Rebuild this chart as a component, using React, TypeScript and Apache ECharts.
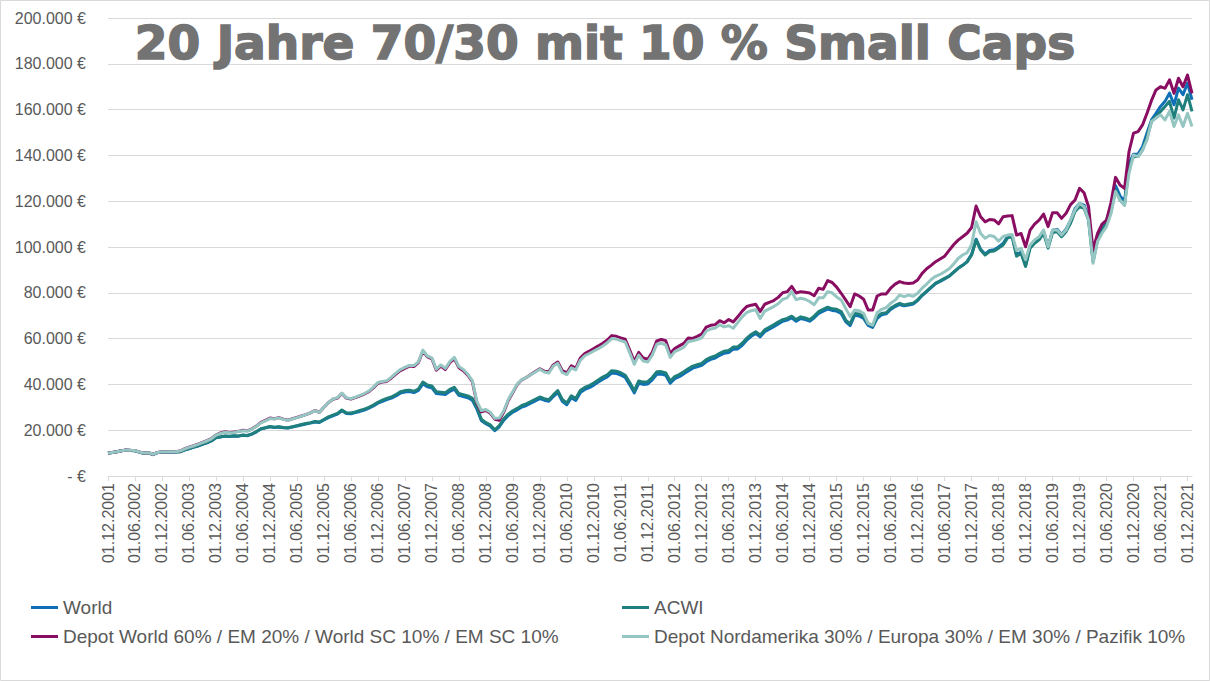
import React, { useEffect, useRef } from "react";
import * as echarts from "echarts";

// Values in thousand euros, monthly from 01.12.2001 to 01.01.2022
const world = [
  10.0, 10.3, 10.6, 11.0, 11.3, 11.1, 11.0, 10.4, 9.9, 10.1, 9.3, 10.2,
  10.5, 10.5, 10.5, 10.5, 10.6, 11.3, 11.9, 12.5, 13.1, 13.8, 14.5, 15.3,
  16.7, 17.0, 17.4, 17.3, 17.5, 17.4, 17.8, 17.6, 18.3, 19.3, 20.5, 21.0,
  21.5, 21.2, 21.4, 21.1, 21.0, 21.4, 21.8, 22.3, 22.7, 23.1, 23.6, 23.4,
  24.5, 25.5, 26.3, 27.0, 28.5, 27.3, 27.2, 27.7, 28.2, 28.8, 29.6, 30.6,
  31.8, 32.6, 33.4, 34.0, 35.0, 36.2, 36.7, 36.9, 36.4, 37.4, 40.2, 39.0,
  38.5, 36.0, 35.8, 35.6, 37.0, 37.9, 35.2, 34.7, 34.2, 33.1, 29.3, 24.2,
  22.8, 21.8, 19.8, 21.5, 24.4, 26.4, 27.9, 28.9, 30.1, 30.8, 31.8, 32.8,
  33.8, 33.1, 32.6, 34.7, 36.5, 32.6, 31.1, 34.2, 33.0, 36.4, 37.8, 38.6,
  39.7, 41.0, 42.3, 43.3, 45.0, 44.8, 44.1, 43.0, 39.8, 36.3, 40.5, 40.0,
  40.2, 42.0, 44.4, 44.5, 44.0, 40.5, 42.5, 43.4, 44.6, 45.9, 47.1, 47.7,
  48.3, 49.9, 50.9, 51.5, 52.7, 53.6, 53.9, 55.4, 55.5, 57.1, 59.3, 61.0,
  62.2, 60.8, 63.0, 64.1, 65.2, 66.4, 67.6, 68.1, 69.1, 67.6, 68.8, 68.3,
  67.6, 69.1, 71.0, 72.0, 72.9, 72.3, 72.0, 71.0, 67.4, 65.7, 70.2, 69.9,
  68.8, 65.8, 64.9, 68.9, 70.4, 70.8, 72.7, 74.0, 74.9, 74.3, 74.7, 75.1,
  76.6, 78.8, 80.5, 82.3, 84.0, 85.0, 86.1, 87.2, 88.9, 90.7, 92.0, 93.6,
  96.8, 103.4, 99.0, 96.9, 98.5, 98.8, 100.0, 101.5, 104.6, 105.0, 96.5, 97.8,
  92.0, 100.2, 102.4, 103.9, 106.9, 100.2, 107.3, 107.7, 105.5, 107.8, 111.6, 116.8,
  119.0, 118.3, 113.0, 94.5, 104.2, 108.3, 111.8, 117.0, 126.8, 122.3, 120.0, 136.5,
  140.5, 140.6, 143.8, 149.8, 155.5, 158.4, 161.4, 163.6, 167.2, 162.1, 169.4, 166.5,
  171.6, 164.3,
];

const acwi = [
  10.0, 10.3, 10.6, 11.0, 11.3, 11.1, 11.0, 10.4, 9.9, 10.1, 9.4, 10.2,
  10.5, 10.5, 10.5, 10.5, 10.6, 11.3, 12.0, 12.6, 13.2, 13.9, 14.6, 15.4,
  16.8, 17.1, 17.5, 17.4, 17.6, 17.5, 17.9, 17.7, 18.4, 19.4, 20.6, 21.1,
  21.6, 21.3, 21.5, 21.2, 21.1, 21.5, 22.0, 22.5, 22.9, 23.3, 23.8, 23.6,
  24.7, 25.8, 26.6, 27.3, 28.8, 27.6, 27.5, 28.0, 28.6, 29.2, 30.0, 31.0,
  32.2, 33.1, 33.9, 34.5, 35.5, 36.8, 37.3, 37.5, 37.0, 38.0, 41.0, 39.7,
  39.3, 36.8, 36.6, 36.4, 37.8, 38.7, 36.0, 35.5, 35.0, 33.9, 30.0, 24.8,
  23.3, 22.3, 20.2, 22.0, 25.0, 27.0, 28.5, 29.5, 30.8, 31.5, 32.5, 33.5,
  34.5, 33.8, 33.3, 35.4, 37.3, 33.4, 31.9, 35.0, 33.8, 37.3, 38.7, 39.5,
  40.6, 41.9, 43.2, 44.2, 46.0, 45.8, 45.1, 44.0, 40.8, 37.2, 41.5, 41.0,
  41.2, 43.0, 45.5, 45.6, 45.0, 41.5, 43.4, 44.3, 45.5, 46.8, 48.0, 48.6,
  49.2, 50.8, 51.8, 52.4, 53.6, 54.5, 54.8, 56.3, 56.4, 58.0, 60.1, 61.8,
  63.0, 61.6, 63.8, 64.9, 66.0, 67.2, 68.3, 68.8, 69.8, 68.3, 69.5, 69.0,
  68.3, 69.8, 71.8, 72.8, 73.7, 73.0, 72.8, 71.8, 68.1, 66.4, 71.0, 70.7,
  69.6, 66.4, 65.5, 69.6, 71.0, 71.3, 73.2, 74.5, 75.4, 74.7, 75.1, 75.5,
  76.9, 79.0, 80.7, 82.5, 84.2, 85.2, 86.3, 87.3, 89.0, 90.7, 92.0, 93.5,
  96.5, 103.0, 98.7, 96.5, 98.0, 98.3, 99.5, 100.9, 104.0, 104.5, 96.0, 97.3,
  91.5, 99.5, 101.6, 103.1, 106.0, 99.5, 106.3, 106.7, 104.5, 106.7, 110.4, 115.5,
  117.6, 116.9, 111.8, 93.6, 103.1, 107.0, 110.4, 115.5, 125.0, 120.5, 118.3, 135.1,
  139.5, 139.5, 142.4, 148.2, 154.8, 157.0, 159.2, 161.4, 163.6, 156.3, 164.3, 159.9,
  166.5, 159.2,
];

const depotWorldSC = [
  10.0, 10.3, 10.6, 11.0, 11.4, 11.2, 11.1, 10.5, 10.0, 10.2, 9.5, 10.3,
  10.6, 10.7, 10.6, 10.6, 10.9, 11.8, 12.6, 13.2, 13.9, 14.7, 15.4, 16.3,
  17.9, 18.8, 19.3, 19.0, 19.2, 19.5, 20.0, 19.7, 20.6, 21.8, 23.4, 24.3,
  25.3, 25.0, 25.5, 24.8, 24.4, 25.0, 25.6, 26.2, 26.8, 27.6, 28.6, 27.8,
  30.0, 32.0, 33.5, 34.0, 36.0, 34.0, 33.6, 34.2, 35.0, 35.8, 36.8, 38.5,
  40.5, 41.0, 41.3, 42.8, 44.5, 46.0, 47.0, 48.0, 47.8, 49.5, 54.5, 52.0,
  51.2, 46.2, 48.0, 46.5, 49.5, 51.3, 47.3, 46.0, 44.0, 41.2, 32.0, 28.0,
  28.6, 27.4, 24.8, 24.3, 28.0, 33.0, 36.5, 40.0, 42.0, 43.0, 44.3, 45.6,
  46.8, 45.8, 45.5, 48.5, 49.8, 46.0, 45.0, 48.1, 47.1, 51.5, 53.5, 54.5,
  55.7, 56.8, 58.0, 59.4, 61.3, 61.0, 60.3, 59.7, 55.0, 50.0, 54.0, 51.5,
  51.0, 54.0, 59.0, 59.6, 59.1, 53.5, 55.7, 56.8, 57.9, 60.3, 60.1, 61.0,
  62.0, 65.0, 65.8, 66.1, 67.8, 66.9, 68.3, 67.3, 69.5, 72.0, 74.0, 74.6,
  75.0, 71.8, 75.0, 75.8, 76.6, 78.0, 80.0, 80.5, 82.8, 79.9, 80.5, 80.2,
  79.9, 78.7, 82.0, 81.5, 85.3, 84.5, 82.5, 79.8, 76.9, 73.9, 79.5, 78.6,
  77.2, 72.5, 72.5, 78.6, 79.5, 79.5, 82.0, 83.8, 84.9, 84.3, 84.1, 84.3,
  85.6, 88.5, 90.5, 92.0, 93.6, 94.8, 96.0, 98.5, 101.0, 103.0, 104.5, 106.0,
  108.5, 117.9, 113.2, 111.0, 112.0, 111.8, 110.1, 113.2, 113.5, 113.7, 105.2, 105.9,
  100.1, 107.4, 110.0, 111.7, 114.4, 108.9, 115.0, 115.0, 112.5, 114.7, 118.5, 120.5,
  125.6, 123.7, 117.6, 98.6, 105.9, 110.0, 111.7, 119.5, 130.4, 127.1, 125.6, 141.7,
  149.7, 150.4, 153.3, 158.4, 164.0, 168.6, 170.0, 169.3, 173.0, 167.1, 173.7, 170.0,
  175.1, 167.1,
];

const depotRegions = [
  10.0, 10.3, 10.6, 11.0, 11.3, 11.2, 11.1, 10.5, 10.0, 10.2, 9.5, 10.3,
  10.6, 10.6, 10.6, 10.6, 10.9, 11.7, 12.5, 13.1, 13.8, 14.6, 15.3, 16.2,
  17.8, 18.6, 19.1, 18.9, 19.0, 19.4, 19.8, 19.6, 20.5, 21.7, 23.2, 24.1,
  25.1, 24.9, 25.4, 24.7, 24.3, 24.9, 25.5, 26.1, 26.8, 27.6, 28.5, 27.8,
  30.0, 32.0, 33.6, 34.2, 36.2, 34.2, 33.8, 34.4, 35.2, 36.0, 37.1, 38.8,
  40.8, 41.3, 41.6, 43.2, 44.9, 46.5, 47.4, 48.3, 48.2, 49.8, 55.0, 52.4,
  51.6, 46.6, 48.5, 47.0, 50.0, 51.8, 47.8, 46.5, 44.4, 41.6, 32.6, 28.6,
  29.0, 27.8, 25.2, 25.3, 28.5, 33.4, 36.8, 40.2, 42.1, 43.0, 44.2, 45.4,
  46.6, 45.4, 45.0, 48.0, 49.2, 45.2, 44.3, 47.2, 46.3, 50.5, 52.5, 53.5,
  54.6, 55.6, 56.8, 58.2, 60.0, 59.8, 59.1, 58.5, 53.8, 48.8, 52.8, 50.2,
  49.8, 52.8, 57.5, 58.0, 57.2, 51.8, 54.3, 55.2, 56.2, 58.6, 59.0, 59.6,
  60.3, 63.2, 64.2, 64.6, 66.0, 65.1, 65.6, 64.5, 67.0, 69.5, 71.4, 72.2,
  72.6, 68.8, 72.0, 73.0, 74.0, 75.2, 77.2, 77.8, 80.5, 77.0, 77.6, 77.2,
  76.2, 74.8, 77.8, 77.8, 80.5, 80.0, 78.2, 76.9, 73.2, 69.6, 72.5, 72.2,
  71.0, 66.7, 65.9, 71.3, 72.8, 73.5, 75.4, 76.8, 79.0, 78.3, 79.0, 78.5,
  79.8, 82.0, 83.8, 85.8, 87.2, 88.0, 89.2, 90.5, 92.5, 95.0, 96.5, 97.5,
  101.0, 111.0, 105.9, 103.8, 105.0, 104.6, 102.5, 104.6, 105.2, 105.5, 98.5, 99.4,
  94.4, 100.9, 103.1, 104.5, 107.4, 100.1, 107.4, 107.4, 105.2, 107.4, 111.8, 116.2,
  119.1, 117.6, 111.8, 92.9, 102.4, 106.0, 108.9, 114.7, 124.2, 120.5, 118.3, 132.2,
  140.2, 139.5, 142.4, 146.8, 154.8, 156.3, 157.7, 155.5, 159.2, 152.6, 157.7, 152.6,
  158.4, 152.6,
];

const seriesNames = [
  "World",
  "ACWI",
  "Depot World 60% / EM 20% / World SC 10% / EM SC 10%",
  "Depot Nordamerika 30% / Europa 30% / EM 30% / Pazifik 10%",
];
const seriesColors = ["#0F70B7", "#1E7F7C", "#890D61", "#95C6C2"];
const titleText = "20 Jahre 70/30 mit 10 % Small Caps";

// Category labels: first of each month, starting December 2001
const startYear = 2001;
const startMonth = 12;
const categories: string[] = world.map((_, i) => {
  const total = startMonth - 1 + i;
  const y = startYear + Math.floor(total / 12);
  const m = (total % 12) + 1;
  return `01.${m < 10 ? "0" + m : m}.${y}`;
});

const fmtEuro = (v: number) =>
  v === 0 ? "- €" : String(Math.round(v)).replace(/\B(?=(\d{3})+(?!\d))/g, ".") + " €";

export default function App() {
  const ref = useRef<HTMLDivElement>(null);
  useEffect(() => {
    if (!ref.current) return;
    const chart = echarts.init(ref.current, undefined, { renderer: "svg" });
    const font = "Liberation Sans";
    const dataSets = [world, acwi, depotWorldSC, depotRegions];
    const legendPos = [
      { left: 31, top: 598 },
      { left: 622, top: 598 },
      { left: 31, top: 627 },
      { left: 622, top: 627 },
    ];
    chart.setOption({
      animation: false,
      backgroundColor: "#ffffff",
      grid: { left: 108, right: 18, top: 18, bottom: 205, containLabel: false },
      graphic: [
        {
          type: "rect",
          silent: true,
          shape: { x: 0.5, y: 0.5, width: 1209, height: 680 },
          style: { fill: "none", stroke: "#d9d9d9", lineWidth: 1 },
          z: 0,
        },
        {
          type: "text",
          x: 605,
          y: 19,
          z: 100,
          style: {
            text: titleText,
            fill: "#737373",
            stroke: "#737373",
            lineWidth: 1.6,
            font: 'bold 47px "DejaVu Sans"',
            textAlign: "center",
            textVerticalAlign: "top",
          },
        },
      ],
      legend: seriesNames.map((n, i) => ({
        data: [n],
        left: legendPos[i].left,
        top: legendPos[i].top,
        padding: 0,
        icon: "rect",
        itemWidth: 27,
        itemHeight: 3,
        selectedMode: false,
        textStyle: { color: "#595959", fontSize: 19, fontFamily: font },
      })),
      xAxis: {
        type: "category",
        data: categories,
        boundaryGap: false,
        axisLine: { lineStyle: { color: "#d9d9d9", width: 1 } },
        axisTick: { show: true, interval: 5, length: 5, lineStyle: { color: "#d9d9d9" } },
        axisLabel: {
          interval: 5,
          rotate: 90,
          margin: 7,
          color: "#595959",
          fontSize: 16,
          fontFamily: font,
        },
        splitLine: { show: false },
      },
      yAxis: {
        type: "value",
        min: 0,
        max: 200000,
        interval: 20000,
        axisLine: { show: false },
        axisTick: { show: false },
        axisLabel: {
          margin: 22,
          color: "#595959",
          fontSize: 16,
          fontFamily: font,
          formatter: fmtEuro,
        },
        splitLine: { lineStyle: { color: "#d9d9d9", width: 1 } },
      },
      series: seriesNames.map((n, i) => ({
        name: n,
        type: "line",
        data: dataSets[i].map((v) => v * 1000),
        showSymbol: false,
        symbol: "none",
        color: seriesColors[i],
        lineStyle: { width: 3, color: seriesColors[i], join: "round" },
        z: 2 + i,
      })),
    });
    return () => chart.dispose();
  }, []);
  return (
    <div
      ref={ref}
      style={{ position: "fixed", left: 0, top: 0, width: 1210, height: 681, background: "#fff" }}
    />
  );
}
